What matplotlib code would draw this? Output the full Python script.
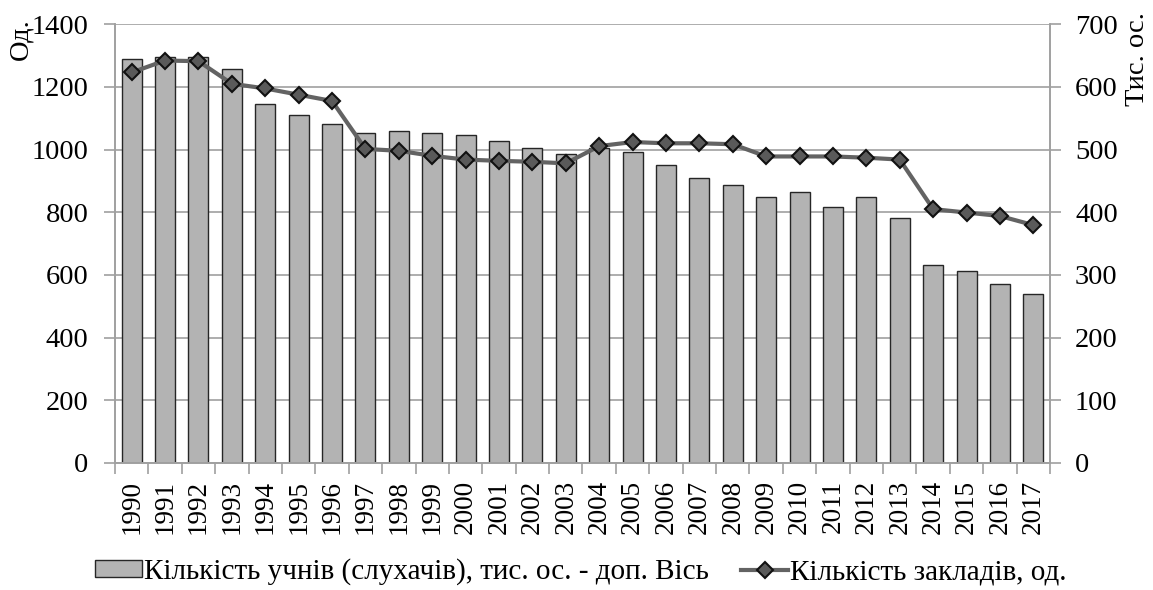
import matplotlib
matplotlib.use("Agg")
import matplotlib.pyplot as plt
from matplotlib.patches import Patch
from matplotlib.lines import Line2D

plt.rcParams['font.family'] = ['Liberation Serif', 'DejaVu Serif']

# дані
years = [str(y) for y in range(1990, 2018)]
students = [644, 648, 647, 629, 573, 555, 540, 527, 529, 527, 523, 513, 502, 493,
            503, 496, 475, 455, 444, 424, 433, 409, 424, 391, 316, 306, 285, 269]
institutions = [1246, 1284, 1282, 1210, 1195, 1175, 1155, 1002, 996, 980, 968, 964, 961, 956,
                1011, 1024, 1020, 1020, 1017, 978, 978, 978, 974, 968, 810, 799, 788, 759]
left_ticks = [0, 200, 400, 600, 800, 1000, 1200, 1400]
right_ticks = [0, 100, 200, 300, 400, 500, 600, 700]

bar_label = "Кількість учнів (слухачів), тис. ос. - доп. Вісь"
line_label = "Кількість закладів, од."

fs_y = 20.5
fs_x = 19.5
fs_leg = 21
grey_axis = '#a0a0a0'

fig = plt.figure(figsize=(11.53, 5.90), dpi=100)
ax = fig.add_axes([0.0997, 0.2153, 0.811, 0.7437])
ax2 = ax.twinx()

x = list(range(len(years)))

# стовпці - допоміжна вісь
ax2.bar(x, students, width=0.6, color='#b3b3b3', edgecolor='#262626', linewidth=1.0, zorder=2)
ax2.set_ylim(0, 700)
ax2.set_yticks(right_ticks)
ax2.yaxis.grid(True, color=grey_axis, linewidth=1.2)
ax2.set_axisbelow(True)

# лінія - основна вісь
ax.plot(x, institutions, color='#636363', linewidth=3.0, marker='D', markersize=7.8,
        markerfacecolor='#5a5a5a', markeredgecolor='#111111', markeredgewidth=1.5, zorder=3)
ax.set_ylim(0, 1400)
ax.set_yticks(left_ticks)
ax.set_zorder(ax2.get_zorder() + 1)
ax.patch.set_visible(False)

ax.set_xlim(-0.5, len(years) - 0.5)
ax.set_xticks(x)
ax.set_xticklabels(years, rotation=90, fontsize=fs_x)
ax.set_xticks([i - 0.5 for i in range(len(years) + 1)], minor=True)
ax.tick_params(axis='x', which='major', length=0, pad=12)
ax.tick_params(axis='x', which='minor', length=8, color=grey_axis, width=1.2)
ax.tick_params(axis='y', labelsize=fs_y, length=8, color=grey_axis, width=1.2, pad=11)
ax2.tick_params(axis='y', labelsize=fs_y, length=8, color=grey_axis, width=1.2, pad=10)

for a in (ax, ax2):
    a.spines['top'].set_visible(False)
    for s in ('left', 'right', 'bottom'):
        a.spines[s].set_color(grey_axis)
        a.spines[s].set_linewidth(1.2)

fig.text(21 / 1153, 1 - 39 / 590, "Од.", rotation=90, ha='center', va='center', fontsize=fs_y)
fig.text(1138 / 1153, 1 - 59 / 590, "Тис. ос.", rotation=90, ha='center', va='center', fontsize=fs_y)

handles = [
    Patch(facecolor='#b3b3b3', edgecolor='#262626', linewidth=1.0),
    Line2D([0], [0], color='#636363', linewidth=3.0, marker='D', markersize=7.8,
           markerfacecolor='#5a5a5a', markeredgecolor='#111111', markeredgewidth=1.5),
]
fig.legend(handles, [bar_label, line_label], loc='center', ncol=2, frameon=False,
           bbox_to_anchor=(0.504, 1 - 572 / 590), fontsize=fs_leg, handlelength=1.6,
           handleheight=0.5, handletextpad=0.08, columnspacing=1.1)

fig.savefig("out.png", dpi=100)
